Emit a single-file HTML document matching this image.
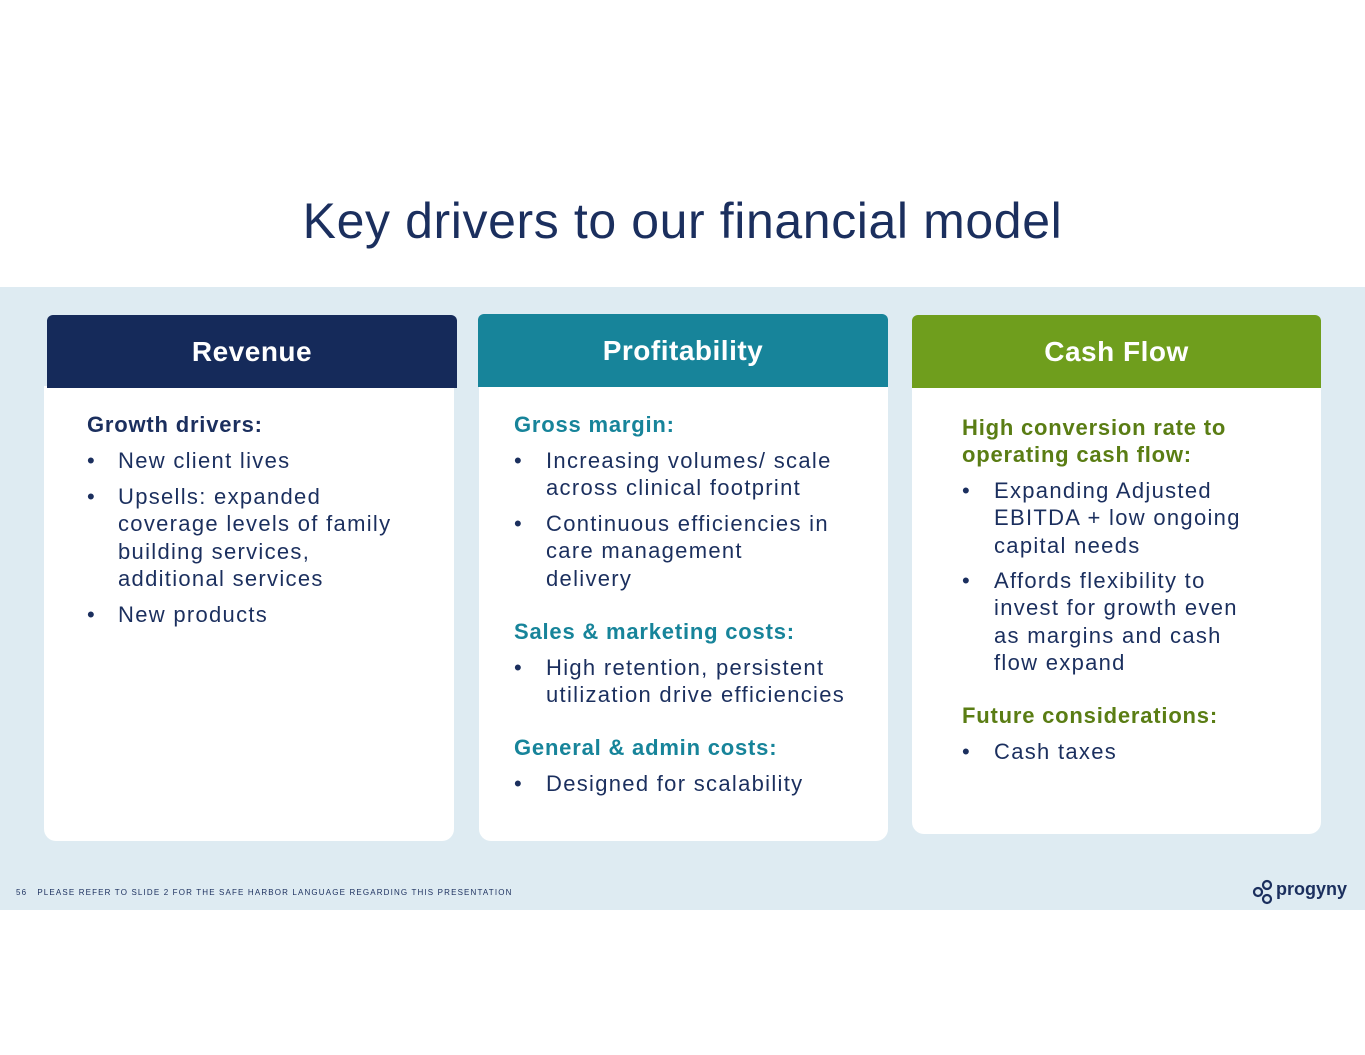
<!DOCTYPE html>
<html><head><meta charset="utf-8"><style>
body{margin:0;width:1365px;height:1055px;background:#fff;position:relative;font-family:"Liberation Sans",sans-serif;overflow:hidden}
.a{position:absolute;white-space:nowrap}
.band{position:absolute;left:0;top:287px;width:1365px;height:623px;background:#deebf2}
.hd{position:absolute;color:#fff;font-weight:bold;font-size:28px;text-align:center;line-height:73px;border-radius:6px 6px 0 0;letter-spacing:0.5px}
.bd{position:absolute;background:#fff;border-radius:0 0 12px 12px}
.t{position:absolute;font-size:22px;line-height:27.3px;color:#1b2f5e;white-space:nowrap;letter-spacing:1.3px}
.h{font-weight:bold;letter-spacing:0.8px}
</style></head><body>
<div class="a" style="left:0;width:1365px;text-align:center;top:192px;font-size:50px;color:#1b2f5e;letter-spacing:0.6px">Key drivers to our financial model</div>
<div class="band"></div>

<div class="bd" style="left:44px;top:386px;width:410px;height:455px"></div>
<div class="hd" style="left:47px;top:315px;width:410px;background:#152a5a">Revenue</div>
<div class="bd" style="left:479px;top:385px;width:409px;height:456px"></div>
<div class="hd" style="left:478px;top:314px;width:410px;background:#17849a">Profitability</div>
<div class="bd" style="left:912px;top:386px;width:409px;height:448px"></div>
<div class="hd" style="left:912px;top:315px;width:409px;background:#6f9e1d">Cash Flow</div>

<div class="t h" style="left:87px;top:411px">Growth drivers:</div>
<div class="t" style="left:87px;top:447px">•</div><div class="t" style="left:118px;top:447px">New client lives</div>
<div class="t" style="left:87px;top:483px">•</div><div class="t" style="left:118px;top:483px">Upsells: expanded<br>coverage levels of family<br>building services,<br>additional services</div>
<div class="t" style="left:87px;top:601px">•</div><div class="t" style="left:118px;top:601px">New products</div>

<div class="t h" style="left:514px;top:411px;color:#17849a">Gross margin:</div>
<div class="t" style="left:514px;top:447px">•</div><div class="t" style="left:546px;top:447px">Increasing volumes/ scale<br>across clinical footprint</div>
<div class="t" style="left:514px;top:510px">•</div><div class="t" style="left:546px;top:510px">Continuous efficiencies in<br>care management<br>delivery</div>
<div class="t h" style="left:514px;top:618px;color:#17849a">Sales &amp; marketing costs:</div>
<div class="t" style="left:514px;top:654px">•</div><div class="t" style="left:546px;top:654px">High retention, persistent<br>utilization drive efficiencies</div>
<div class="t h" style="left:514px;top:734px;color:#17849a">General &amp; admin costs:</div>
<div class="t" style="left:514px;top:770px">•</div><div class="t" style="left:546px;top:770px">Designed for scalability</div>

<div class="t h" style="left:962px;top:414px;color:#5a7d14">High conversion rate to<br>operating cash flow:</div>
<div class="t" style="left:962px;top:477px">•</div><div class="t" style="left:994px;top:477px">Expanding Adjusted<br>EBITDA + low ongoing<br>capital needs</div>
<div class="t" style="left:962px;top:567px">•</div><div class="t" style="left:994px;top:567px">Affords flexibility to<br>invest for growth even<br>as margins and cash<br>flow expand</div>
<div class="t h" style="left:962px;top:702px;color:#5a7d14">Future considerations:</div>
<div class="t" style="left:962px;top:738px">•</div><div class="t" style="left:994px;top:738px">Cash taxes</div>

<div class="a" style="left:16px;top:888px;font-size:8px;color:#1b2f5e;letter-spacing:1.15px">56 &nbsp; PLEASE REFER TO SLIDE 2 FOR THE SAFE HARBOR LANGUAGE REGARDING THIS PRESENTATION</div>
<svg class="a" style="left:1252px;top:879px" width="26" height="26"><g fill="none" stroke="#1b2f5e" stroke-width="2.2"><circle cx="6" cy="13" r="4"/><circle cx="15" cy="6" r="4"/><circle cx="15" cy="20" r="4"/></g></svg>
<div class="a" style="left:1276px;top:879px;font-size:18px;font-weight:bold;color:#1b2f5e">progyny</div>
</body></html>
